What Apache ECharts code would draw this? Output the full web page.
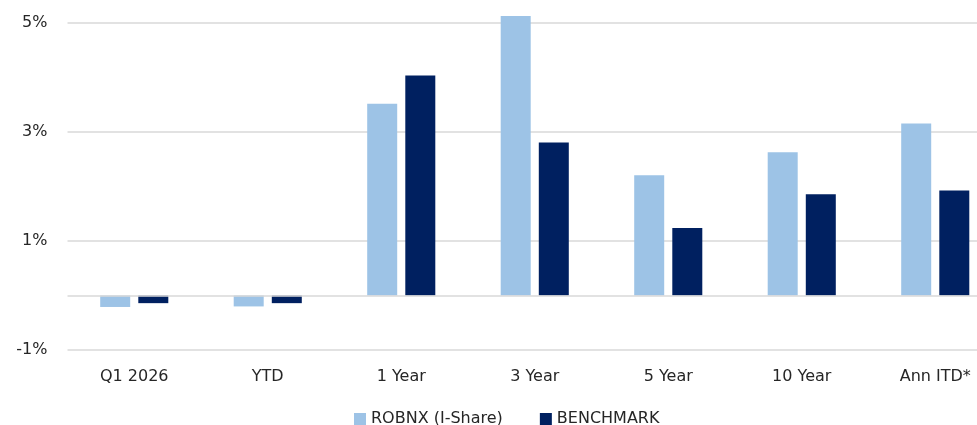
<!DOCTYPE html>
<html>
<head>
<meta charset="utf-8">
<script src="https://cdn.jsdelivr.net/npm/echarts@6/dist/echarts.min.js"></script>
<style>
html,body{margin:0;padding:0;background:#fff;overflow:hidden;width:977px;height:425px;}
#c{width:1002px;height:425px;}
</style>
</head>
<body>
<div id="c"></div>
<script>
const categories = ['Q1 2026', 'YTD', '1 Year', '3 Year', '5 Year', '10 Year', 'Ann ITD*'];
const robnx = [-0.21, -0.20, 3.52, 5.13, 2.21, 2.63, 3.16];
const benchmark = [-0.14, -0.14, 4.04, 2.81, 1.24, 1.86, 1.93];
const seriesNames = ['ROBNX (I-Share)', 'BENCHMARK'];

const chart = echarts.init(document.getElementById('c'), null, {renderer: 'canvas'});
const font = '"DejaVu Sans", sans-serif';
chart.setOption({
  animation: false,
  textStyle: {fontFamily: font},
  grid: {left: 67.5, right: 0, top: 23.2, bottom: 75, containLabel: false},
  legend: {
    data: seriesNames,
    left: 354, top: 411, padding: 0,
    itemWidth: 12, itemHeight: 12, itemGap: 37,
    icon: 'rect',
    textStyle: {fontSize: 16, color: '#262626', fontFamily: font}
  },
  xAxis: {
    type: 'category',
    data: categories,
    axisLine: {show: false, onZero: false},
    axisTick: {show: false},
    axisLabel: {fontSize: 16, color: '#262626', margin: 19, fontFamily: font}
  },
  yAxis: {
    type: 'value',
    min: -1, max: 5, interval: 2,
    axisLine: {show: false},
    axisTick: {show: false},
    axisLabel: {fontSize: 16, color: '#262626', margin: 20, formatter: v => v + '%', fontFamily: font},
    splitLine: {lineStyle: {color: '#d9d9d9', width: 1.5}}
  },
  series: [
    {
      name: seriesNames[0], type: 'bar', data: robnx,
      barWidth: 30, barGap: '27%', clip: false,
      itemStyle: {color: '#9dc3e6'},
      markLine: {
        silent: true, symbol: 'none', label: {show: false},
        lineStyle: {color: '#d9d9d9', type: 'solid', width: 1.5},
        data: [{yAxis: 0}]
      }
    },
    {
      name: seriesNames[1], type: 'bar', data: benchmark,
      barWidth: 30, clip: false,
      itemStyle: {color: '#002060'}
    }
  ]
});
</script>
</body>
</html>
